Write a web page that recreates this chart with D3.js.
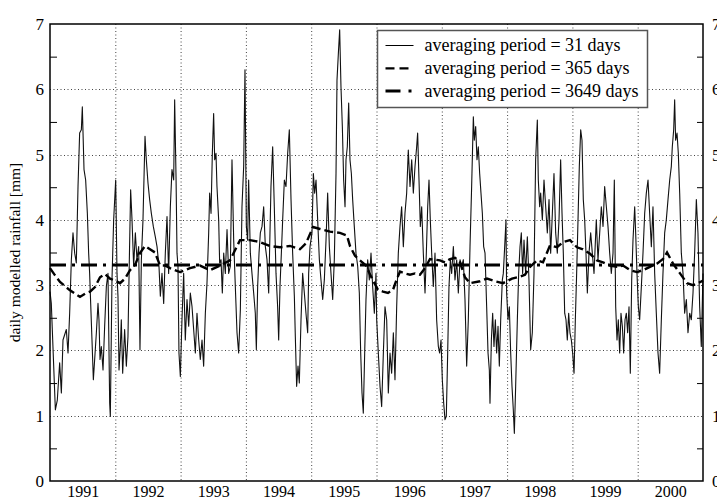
<!DOCTYPE html>
<html>
<head>
<meta charset="utf-8">
<script src="https://cdn.jsdelivr.net/npm/d3@7"></script>
<style>
  body { margin: 0; background: #fff; }
  svg, svg text { font-family: "Liberation Serif", "DejaVu Serif", "Times New Roman", serif; }
  svg { display: block; }
</style>
</head>
<body>
<svg id="chart" width="717" height="500"></svg>
<script>
// tick labels
const yearLabels = [1991, 1992, 1993, 1994, 1995, 1996, 1997, 1998, 1999, 2000];
const yTicks = [0, 1, 2, 3, 4, 5, 6, 7];
const yMinorTicks = [0.5, 1.5, 2.5, 3.5, 4.5, 5.5, 6.5];

// [decimal year, rainfall mm]
const avg31 = [
  [1991.000, 2.90], [1991.020, 2.72], [1991.082, 1.09], [1991.112, 1.24], [1991.148, 1.81], [1991.174, 1.35],
  [1991.199, 2.16], [1991.250, 2.32], [1991.276, 1.96], [1991.301, 2.57], [1991.327, 3.39], [1991.352, 3.80],
  [1991.378, 3.49], [1991.403, 3.34], [1991.429, 4.51], [1991.454, 5.33], [1991.480, 5.38], [1991.495, 5.73],
  [1991.521, 4.77], [1991.546, 4.61], [1991.572, 4.10], [1991.592, 3.49], [1991.607, 3.18], [1991.623, 2.72],
  [1991.643, 2.16], [1991.664, 1.55], [1991.684, 1.86], [1991.710, 2.27], [1991.735, 2.72], [1991.750, 2.47],
  [1991.766, 1.86], [1991.786, 2.06], [1991.812, 1.70], [1991.837, 2.37], [1991.863, 2.98], [1991.888, 3.18],
  [1991.914, 1.19], [1991.924, 0.99], [1991.949, 3.08], [1991.975, 4.00], [1992.006, 4.61], [1992.026, 3.18],
  [1992.041, 2.83], [1992.057, 1.70], [1992.077, 2.06], [1992.092, 2.47], [1992.113, 1.65], [1992.143, 2.32],
  [1992.169, 1.76], [1992.194, 2.21], [1992.215, 3.39], [1992.235, 4.46], [1992.256, 4.00], [1992.281, 3.29],
  [1992.307, 3.80], [1992.332, 3.39], [1992.358, 3.59], [1992.378, 2.01], [1992.399, 3.39], [1992.424, 4.00],
  [1992.455, 5.28], [1992.475, 4.92], [1992.501, 4.56], [1992.526, 4.31], [1992.552, 4.10], [1992.582, 3.90],
  [1992.613, 3.74], [1992.639, 3.59], [1992.669, 3.29], [1992.690, 2.83], [1992.715, 3.18], [1992.741, 2.72],
  [1992.766, 3.49], [1992.792, 4.05], [1992.817, 3.18], [1992.843, 4.20], [1992.868, 4.77], [1992.894, 4.61],
  [1992.909, 5.84], [1992.930, 4.66], [1992.945, 3.49], [1992.960, 3.29], [1992.975, 1.96], [1992.996, 1.60],
  [1993.021, 2.47], [1993.047, 3.18], [1993.072, 2.16], [1993.098, 2.78], [1993.124, 2.37], [1993.149, 2.88],
  [1993.175, 2.67], [1993.200, 2.32], [1993.226, 1.96], [1993.251, 2.57], [1993.277, 2.16], [1993.302, 1.86],
  [1993.328, 2.16], [1993.353, 1.76], [1993.379, 2.57], [1993.404, 3.03], [1993.430, 3.80], [1993.445, 4.41],
  [1993.466, 4.10], [1993.486, 5.02], [1993.506, 5.63], [1993.522, 4.92], [1993.542, 5.02], [1993.557, 4.51],
  [1993.583, 4.00], [1993.598, 3.34], [1993.619, 3.39], [1993.639, 2.88], [1993.660, 3.49], [1993.685, 3.18],
  [1993.711, 3.85], [1993.736, 3.18], [1993.762, 3.29], [1993.787, 4.92], [1993.813, 3.69], [1993.838, 2.98],
  [1993.864, 2.27], [1993.889, 1.96], [1993.915, 2.62], [1993.940, 4.20], [1993.966, 4.82], [1993.986, 6.30],
  [1994.007, 3.90], [1994.027, 3.69], [1994.042, 4.61], [1994.068, 3.49], [1994.093, 3.18], [1994.119, 2.88],
  [1994.144, 2.57], [1994.160, 2.01], [1994.180, 2.98], [1994.201, 3.49], [1994.221, 3.80], [1994.247, 3.90],
  [1994.272, 4.20], [1994.298, 3.59], [1994.323, 3.39], [1994.349, 2.88], [1994.384, 4.51], [1994.410, 5.12],
  [1994.435, 4.20], [1994.461, 3.18], [1994.486, 2.67], [1994.502, 2.16], [1994.522, 2.98], [1994.543, 3.49],
  [1994.563, 4.00], [1994.589, 4.61], [1994.614, 4.51], [1994.640, 5.02], [1994.665, 5.38], [1994.691, 4.31],
  [1994.716, 3.49], [1994.742, 2.83], [1994.757, 2.21], [1994.777, 1.45], [1994.798, 1.76], [1994.818, 1.50],
  [1994.844, 2.47], [1994.869, 3.18], [1994.895, 2.88], [1994.920, 2.57], [1994.946, 2.27], [1994.961, 3.18],
  [1994.982, 3.59], [1995.012, 3.80], [1995.033, 4.71], [1995.053, 4.41], [1995.074, 4.61], [1995.099, 4.00],
  [1995.125, 3.39], [1995.150, 3.08], [1995.176, 2.78], [1995.201, 3.08], [1995.227, 3.69], [1995.252, 4.41],
  [1995.278, 3.59], [1995.303, 3.18], [1995.329, 2.78], [1995.354, 3.39], [1995.380, 4.71], [1995.395, 6.14],
  [1995.416, 6.55], [1995.436, 6.91], [1995.456, 6.04], [1995.477, 5.43], [1995.497, 4.61], [1995.518, 4.20],
  [1995.533, 4.92], [1995.553, 5.12], [1995.574, 5.79], [1995.594, 4.92], [1995.615, 4.71], [1995.635, 4.31],
  [1995.660, 3.90], [1995.686, 3.49], [1995.712, 3.29], [1995.737, 2.88], [1995.758, 1.96], [1995.778, 1.35],
  [1995.798, 1.04], [1995.819, 1.96], [1995.839, 2.78], [1995.865, 3.39], [1995.890, 3.08], [1995.916, 3.49],
  [1995.941, 2.98], [1995.967, 2.57], [1995.992, 3.18], [1996.003, 2.47], [1996.028, 1.96], [1996.054, 1.45],
  [1996.079, 1.14], [1996.105, 1.96], [1996.130, 2.67], [1996.156, 2.47], [1996.181, 1.35], [1996.207, 1.96],
  [1996.232, 1.65], [1996.258, 2.27], [1996.283, 1.55], [1996.309, 2.67], [1996.334, 3.49], [1996.360, 3.90],
  [1996.385, 4.20], [1996.411, 3.59], [1996.436, 4.10], [1996.462, 4.41], [1996.487, 5.07], [1996.513, 4.51],
  [1996.539, 4.92], [1996.564, 4.41], [1996.590, 4.82], [1996.615, 5.12], [1996.630, 5.33], [1996.651, 4.61],
  [1996.671, 3.90], [1996.692, 4.20], [1996.717, 3.49], [1996.743, 2.88], [1996.763, 3.49], [1996.784, 4.20],
  [1996.804, 4.61], [1996.824, 4.00], [1996.845, 3.49], [1996.870, 2.98], [1996.896, 3.49], [1996.921, 2.47],
  [1996.947, 2.06], [1996.967, 1.96], [1996.988, 2.16], [1997.008, 1.55], [1997.029, 1.19], [1997.049, 0.94],
  [1997.069, 0.99], [1997.090, 1.96], [1997.110, 2.98], [1997.131, 3.39], [1997.151, 3.18], [1997.177, 3.59],
  [1997.202, 3.08], [1997.228, 3.39], [1997.253, 2.88], [1997.279, 3.39], [1997.304, 3.29], [1997.330, 3.39],
  [1997.355, 2.78], [1997.381, 1.76], [1997.406, 2.47], [1997.432, 3.59], [1997.457, 4.51], [1997.483, 5.58],
  [1997.498, 5.22], [1997.519, 5.43], [1997.539, 4.92], [1997.559, 5.12], [1997.580, 4.71], [1997.600, 4.41],
  [1997.621, 4.10], [1997.641, 3.59], [1997.662, 3.49], [1997.687, 2.67], [1997.708, 1.96], [1997.728, 1.70],
  [1997.738, 1.19], [1997.759, 2.16], [1997.779, 2.57], [1997.799, 2.06], [1997.820, 2.47], [1997.840, 1.96],
  [1997.861, 2.37], [1997.881, 1.76], [1997.902, 2.47], [1997.927, 3.08], [1997.942, 3.18], [1997.963, 3.59],
  [1997.983, 4.00], [1997.993, 2.88], [1998.014, 2.47], [1998.034, 2.67], [1998.055, 1.96], [1998.075, 1.45],
  [1998.095, 1.09], [1998.111, 0.73], [1998.131, 1.45], [1998.157, 2.47], [1998.177, 3.18], [1998.198, 3.59],
  [1998.218, 3.80], [1998.238, 3.18], [1998.259, 3.69], [1998.284, 3.18], [1998.310, 3.74], [1998.335, 3.08],
  [1998.361, 2.01], [1998.386, 2.27], [1998.412, 3.18], [1998.437, 4.92], [1998.463, 5.53], [1998.478, 4.61],
  [1998.499, 4.20], [1998.514, 4.41], [1998.540, 4.00], [1998.565, 4.61], [1998.591, 4.20], [1998.616, 3.80],
  [1998.642, 4.31], [1998.667, 3.49], [1998.693, 4.10], [1998.718, 4.71], [1998.744, 3.80], [1998.769, 3.49],
  [1998.795, 4.00], [1998.820, 4.92], [1998.841, 4.10], [1998.861, 3.49], [1998.882, 2.57], [1998.902, 2.47],
  [1998.922, 2.16], [1998.943, 2.57], [1998.963, 2.27], [1998.984, 2.16], [1999.004, 1.96], [1999.025, 1.65],
  [1999.045, 2.47], [1999.065, 3.18], [1999.086, 4.00], [1999.106, 4.82], [1999.127, 5.38], [1999.147, 5.22],
  [1999.167, 4.31], [1999.188, 4.00], [1999.208, 3.49], [1999.229, 2.88], [1999.254, 3.49], [1999.280, 3.80],
  [1999.305, 3.49], [1999.331, 3.18], [1999.366, 4.00], [1999.392, 3.39], [1999.418, 3.80], [1999.443, 4.20],
  [1999.469, 3.90], [1999.494, 4.51], [1999.520, 4.20], [1999.545, 3.90], [1999.571, 3.49], [1999.596, 3.18],
  [1999.622, 3.49], [1999.642, 4.61], [1999.663, 2.67], [1999.683, 2.16], [1999.703, 2.47], [1999.724, 1.96],
  [1999.744, 2.57], [1999.765, 2.37], [1999.785, 1.96], [1999.806, 2.47], [1999.826, 2.57], [1999.846, 2.27],
  [1999.867, 2.67], [1999.887, 1.65], [1999.908, 3.08], [1999.928, 3.69], [1999.954, 4.20], [1999.969, 3.80],
  [1999.989, 3.18], [2000.010, 2.67], [2000.030, 2.47], [2000.056, 2.98], [2000.081, 3.49], [2000.107, 4.10],
  [2000.132, 4.41], [2000.158, 4.61], [2000.183, 4.10], [2000.209, 3.59], [2000.234, 4.20], [2000.260, 3.18],
  [2000.285, 2.57], [2000.311, 1.96], [2000.336, 1.65], [2000.362, 2.47], [2000.387, 3.18], [2000.413, 3.80],
  [2000.438, 4.00], [2000.464, 4.31], [2000.490, 4.61], [2000.515, 4.82], [2000.530, 5.12], [2000.551, 5.38],
  [2000.566, 5.84], [2000.581, 5.22], [2000.602, 5.33], [2000.622, 5.02], [2000.643, 4.41], [2000.668, 3.49],
  [2000.694, 3.18], [2000.719, 2.57], [2000.745, 2.78], [2000.770, 2.27], [2000.796, 2.57], [2000.821, 2.47],
  [2000.847, 2.88], [2000.872, 3.49], [2000.898, 4.31], [2000.923, 3.80], [2000.949, 2.67], [2000.974, 2.06],
  [2001.000, 3.18]
];

const avg365 = [
  [1991.000, 3.26], [1991.077, 3.15], [1991.153, 3.05], [1991.306, 2.92], [1991.459, 2.82], [1991.536, 2.87],
  [1991.613, 2.90], [1991.689, 2.97], [1991.766, 3.12], [1991.842, 3.17], [1991.919, 3.10], [1991.995, 3.07],
  [1992.072, 3.03], [1992.149, 3.10], [1992.225, 3.23], [1992.302, 3.31], [1992.378, 3.49], [1992.455, 3.60],
  [1992.531, 3.55], [1992.608, 3.50], [1992.685, 3.30], [1992.761, 3.30], [1992.838, 3.26], [1992.991, 3.20],
  [1993.144, 3.26], [1993.297, 3.30], [1993.450, 3.23], [1993.603, 3.30], [1993.757, 3.38], [1993.910, 3.69],
  [1994.063, 3.69], [1994.216, 3.66], [1994.369, 3.60], [1994.522, 3.58], [1994.675, 3.60], [1994.828, 3.55],
  [1994.920, 3.64], [1995.028, 3.89], [1995.135, 3.86], [1995.288, 3.82], [1995.441, 3.80], [1995.548, 3.76],
  [1995.594, 3.60], [1995.671, 3.45], [1995.747, 3.38], [1995.839, 3.30], [1995.931, 3.10], [1996.023, 2.93],
  [1996.100, 2.90], [1996.176, 2.88], [1996.253, 2.93], [1996.314, 3.10], [1996.360, 3.21], [1996.436, 3.18],
  [1996.513, 3.16], [1996.590, 3.18], [1996.666, 3.16], [1996.743, 3.26], [1996.819, 3.40], [1996.972, 3.38],
  [1997.049, 3.35], [1997.126, 3.40], [1997.202, 3.42], [1997.279, 3.35], [1997.355, 3.12], [1997.432, 3.03],
  [1997.585, 3.06], [1997.692, 3.10], [1997.815, 3.06], [1997.937, 3.03], [1998.075, 3.10], [1998.198, 3.13],
  [1998.274, 3.16], [1998.351, 3.28], [1998.458, 3.38], [1998.550, 3.35], [1998.657, 3.61], [1998.764, 3.58],
  [1998.856, 3.66], [1998.963, 3.69], [1999.070, 3.58], [1999.162, 3.55], [1999.270, 3.48], [1999.377, 3.38],
  [1999.468, 3.35], [1999.576, 3.30], [1999.683, 3.28], [1999.775, 3.30], [1999.882, 3.23], [1999.989, 3.20],
  [2000.081, 3.23], [2000.188, 3.28], [2000.295, 3.33], [2000.388, 3.40], [2000.449, 3.50], [2000.541, 3.33],
  [2000.648, 3.18], [2000.755, 3.03], [2000.847, 3.00], [2000.923, 3.03], [2001.000, 3.07]
];

const avg3649 = [[1991.000, 3.31], [2001.000, 3.31]];

const legendLabels = [
  "averaging period = 31 days",
  "averaging period = 365 days",
  "averaging period = 3649 days"
];

const FONT = '"Liberation Serif", "DejaVu Serif", "Times New Roman", serif';

const svg = d3.select("#chart");
const margin = { top: 24, right: 14, bottom: 19, left: 50 };
const width = 717 - margin.left - margin.right;
const height = 500 - margin.top - margin.bottom;

const x = d3.scaleLinear().domain([1991, 2001]).range([margin.left, margin.left + width]);
const y = d3.scaleLinear().domain([0, 7]).range([margin.top + height, margin.top]);

// dotted grid
const grid = svg.append("g").attr("stroke", "#444").attr("stroke-width", 1).attr("stroke-dasharray", "1,2.5");
grid.selectAll("line.v")
  .data(yearLabels.slice(1))
  .join("line")
  .attr("x1", d => x(d) + 0.5).attr("x2", d => x(d) + 0.5)
  .attr("y1", y(7)).attr("y2", y(0));
grid.selectAll("line.h")
  .data(yTicks.slice(1, -1))
  .join("line")
  .attr("y1", d => Math.round(y(d)) + 0.5).attr("y2", d => Math.round(y(d)) + 0.5)
  .attr("x1", x(1991)).attr("x2", x(2001));

// series
const line = d3.line().x(d => x(d[0])).y(d => y(d[1]));

svg.append("path").datum(avg31)
  .attr("fill", "none").attr("stroke", "#111").attr("stroke-width", 1.1)
  .attr("stroke-linejoin", "round").attr("d", line);

svg.append("path").datum(avg365)
  .attr("fill", "none").attr("stroke", "#000").attr("stroke-width", 2.4)
  .attr("stroke-dasharray", "9,4").attr("d", line);

svg.append("path").datum(avg3649)
  .attr("fill", "none").attr("stroke", "#000").attr("stroke-width", 3)
  .attr("stroke-dasharray", "16,6,3,6").attr("d", line);

// axes
const tickFont = g => g.attr("font-family", FONT).attr("font-size", 17)
  .selectAll("text").attr("fill", "#000");

svg.append("g")
  .attr("transform", `translate(0,${y(0)})`)
  .call(d3.axisBottom(x).tickValues(yearLabels.map(d => d + 0.5)).tickFormat(d => Math.floor(d)).tickSize(0).tickPadding(5))
  .call(g => g.select(".domain").remove())
  .call(g => g.attr("font-family", FONT).attr("font-size", 16).selectAll("text").attr("fill", "#000"));

svg.append("g")
  .attr("transform", `translate(${x(1991)},0)`)
  .call(d3.axisLeft(y).tickValues(yTicks).tickFormat(d3.format("d")).tickSize(0).tickPadding(6))
  .call(g => g.select(".domain").remove())
  .call(tickFont);

svg.append("g")
  .attr("transform", `translate(${x(2001)},0)`)
  .call(d3.axisRight(y).tickValues(yTicks).tickFormat(d3.format("d")).tickSize(0).tickPadding(9))
  .call(g => g.select(".domain").remove())
  .call(tickFont);

// minor ticks, pointing inwards
svg.append("g").attr("transform", `translate(${x(1991)},0)`)
  .call(d3.axisRight(y).tickValues(yMinorTicks).tickSize(7).tickFormat(""))
  .call(g => g.select(".domain").remove());
svg.append("g").attr("transform", `translate(${x(2001)},0)`)
  .call(d3.axisLeft(y).tickValues(yMinorTicks).tickSize(6).tickFormat(""))
  .call(g => g.select(".domain").remove());

// frame
svg.append("rect")
  .attr("x", x(1991)).attr("y", y(7))
  .attr("width", x(2001) - x(1991)).attr("height", y(0) - y(7))
  .attr("fill", "none").attr("stroke", "#000").attr("stroke-width", 1.5);

// y label
svg.append("text")
  .attr("transform", `translate(20,${(y(0) + y(7)) / 2}) rotate(-90)`)
  .attr("text-anchor", "middle")
  .attr("font-family", FONT)
  .attr("font-size", 15.5)
  .text("daily modelled rainfall [mm]");

// legend
const legend = svg.append("g").attr("transform", "translate(377.5,30.5)");
legend.append("rect")
  .attr("width", 270).attr("height", 77)
  .attr("fill", "#fff").attr("stroke", "#555").attr("stroke-width", 1.5);

const styles = [
  { w: 1, dash: null },
  { w: 2.2, dash: "9,5" },
  { w: 3, dash: "15,8,3,8" }
];
legendLabels.forEach((label, i) => {
  const yy = 15 + i * 22.8;
  legend.append("line")
    .attr("x1", 8).attr("x2", 36).attr("y1", yy).attr("y2", yy)
    .attr("stroke", "#000").attr("stroke-width", styles[i].w)
    .attr("stroke-dasharray", styles[i].dash);
  legend.append("text")
    .attr("x", 47).attr("y", yy + 5.5)
    .attr("font-family", FONT)
    .attr("font-size", 18)
    .text(label);
});
</script>
</body>
</html>
